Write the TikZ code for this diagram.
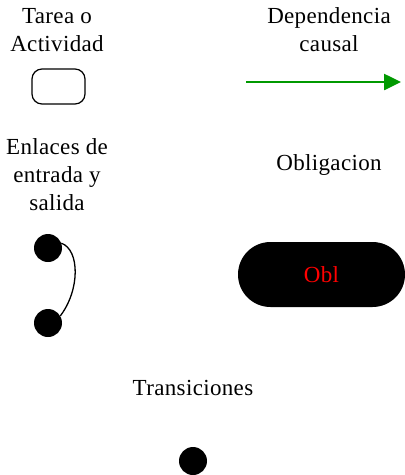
\documentclass[tikz,border=0pt]{standalone}
\usepackage{fontspec}
\setmainfont{Liberation Serif}
\newfontfamily\espaciada[LetterSpace=1.5]{Liberation Serif}
\usepackage{tikz}
\usetikzlibrary{arrows.meta,positioning}
\definecolor{causegreen}{RGB}{0,153,0}
\tikzset{
  lbl/.style    ={align=center,inner sep=0pt,font=\espaciada\fontsize{23}{28}\selectfont},
  tarea/.style  ={draw=black,line width=1.2pt,rounded corners=10pt,
                  minimum width=53pt,minimum height=35pt,inner sep=0pt},
  punto/.style  ={circle,fill=black,minimum size=28pt,inner sep=0pt},
  oblig/.style  ={fill=black,rounded corners=32.5pt,minimum width=167pt,
                  minimum height=65pt,inner sep=0pt,text=red,
                  font=\espaciada\fontsize{23}{26}\selectfont},
  dep/.style    ={-{Triangle[length=17pt,width=16pt]},draw=causegreen,line width=2.6pt},
  enl/.style    ={draw=black,line width=1.3pt},
}

\begin{document}
\begin{tikzpicture}[x=1pt, y=-1pt]
\useasboundingbox (0,0) rectangle (405,475);

%% ---------------- captions ----------------
\node[lbl] (ltarea) at ( 57, 30) {Tarea o\\Actividad};
\node[lbl] (ldep)   at (329, 30) {Dependencia\\causal};
\node[lbl] (lenl)   at ( 57,175) {Enlaces de\\entrada y\\salida};
\node[lbl] (lobl)   at (329,165) {Obligacion};
\node[lbl] (ltrans) at (193,388) {Transiciones};

%% ---------------- symbols ----------------
\node[tarea] (tarea) at (58.5,86.5) {};

\coordinate (depa) at (246,82);
\coordinate (depb) at (401,82);
\draw[dep] (depa) -- (depb);

\node[punto] (ent) at (48,248) {};
\node[punto] (sal) at (48,323) {};
\draw[enl] (ent.20) .. controls (80,250) and (80,290) .. (sal.30);

\node[oblig] (obl) at (321.5,274.5) {Obl};

\node[punto] (trans) at (193,461) {};

\end{tikzpicture}
\end{document}
